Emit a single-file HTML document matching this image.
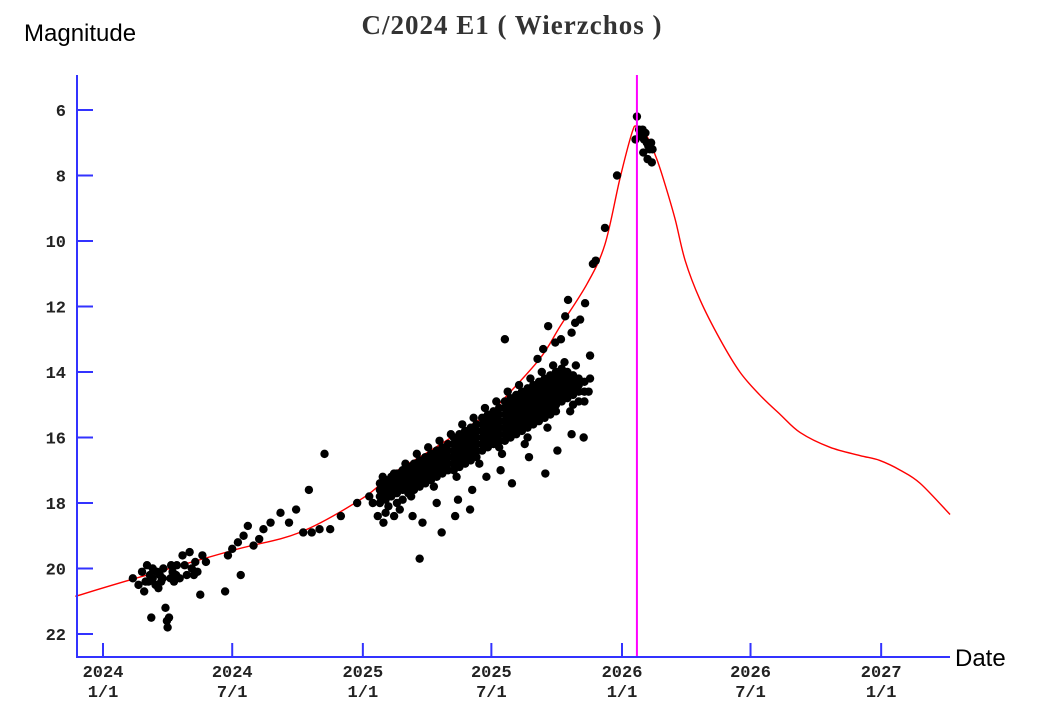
<!DOCTYPE html>
<html><head><meta charset="utf-8"><style>
body{margin:0;background:#fff;width:1060px;height:724px;overflow:hidden}
svg{display:block}
.tk{font-family:"Liberation Mono",monospace;font-size:17px;font-weight:bold;fill:#222}
</style></head><body>
<svg id="chart" width="1060" height="724" viewBox="0 0 1060 724">
<text x="512" y="34" text-anchor="middle" font-family="Liberation Serif,serif" font-size="27" letter-spacing="1" font-weight="bold" fill="#333">C/2024 E1 ( Wierzchos )</text>
<text x="24" y="41" font-family="Liberation Sans,sans-serif" font-size="24" fill="#000">Magnitude</text>
<text x="955" y="666" font-family="Liberation Sans,sans-serif" font-size="24" fill="#000">Date</text>
<g id="marks"></g>
<g id="axes"></g>
</svg>
<script>
const yTicks=[6,8,10,12,14,16,18,20,22];
const xTickDays=[0,182,366,547,731,912,1096];
const xTickYears=["2024","2024","2025","2025","2026","2026","2027"];
const xTickDates=["1/1","7/1","1/1","7/1","1/1","7/1","1/1"];
const perihelionDay=752;
const curveDays=[-39,38,182,277,366,408,461,548,559,615,644,682,707,728,745,752,766,780,792,806,820,841,869,897,925,954,982,1024,1066,1094,1123,1151,1193];
const curveMags=[20.85,20.35,19.45,18.9,17.85,17.1,16.4,15.2,14.95,13.6,12.6,11.3,10.1,8.1,6.7,6.5,6.8,7.5,8.3,9.35,10.6,11.8,13.0,14.0,14.7,15.3,15.85,16.3,16.55,16.7,17.0,17.4,18.35];
const obs=[[42,20.3],[50,20.5],[55,20.1],[58,20.7],[60,20.4],[62,19.9],[66,20.2],[68,21.5],[70,20.3],[74,20.5],[76,20.1],[80,20.2],[82,20.4],[85,20.0],[88,21.2],[90,21.6],[91,21.8],[93,21.5],[95,20.3],[98,20.1],[100,20.4],[104,19.9],[108,20.3],[112,19.6],[115,19.9],[118,20.2],[122,19.5],[125,20.0],[130,19.8],[133,20.1],[137,20.8],[140,19.6],[145,19.8],[172,20.7],[176,19.6],[182,19.4],[190,19.2],[194,20.2],[198,19.0],[204,18.7],[212,19.3],[220,19.1],[226,18.8],[236,18.6],[250,18.3],[262,18.6],[272,18.2],[282,18.9],[290,17.6],[294,18.9],[305,18.8],[312,16.5],[320,18.8],[335,18.4],[358,18.0],[375,17.8],[387,18.4],[418,18.2],[446,19.7],[477,18.9],[496,18.4],[517,18.2],[576,17.4],[623,17.1],[677,16.0],
[64,20.4],[70,20.0],[78,20.6],[84,20.3],[96,19.9],[103,20.2],[128,20.2],[450,18.6],[436,18.4],[470,18.0],[500,17.9],[520,17.6],[540,17.2],[560,17.0],[600,16.6],[640,16.4],[660,15.9],[380,18.0],[395,18.6],[410,18.4],
[390,17.4],[390,17.6],[390,17.8],[390,18.0],[398,17.3],[398,17.5],[398,17.7],[398,17.9],[398,18.3],[406,17.2],[406,17.4],[406,17.6],[406,17.8],[414,17.1],[414,17.3],[414,17.5],[414,17.7],[414,18.0],[422,17.0],[422,17.2],[422,17.4],[422,17.6],[422,17.9],[430,16.9],[430,17.1],[430,17.3],[430,17.5],[430,17.7],[438,16.8],[438,17.0],[438,17.2],[438,17.4],[438,17.6],[446,16.7],[446,16.9],[446,17.1],[446,17.3],[446,17.5],[454,16.6],[454,16.8],[454,17.0],[454,17.2],[454,17.4],[462,16.5],[462,16.7],[462,16.9],[462,17.1],[462,17.3],[470,16.4],[470,16.6],[470,16.8],[470,17.0],[470,17.2],[478,16.3],[478,16.5],[478,16.7],[478,16.9],[478,17.1],[486,16.2],[486,16.4],[486,16.6],[486,16.8],[486,17.0],[494,16.0],[494,16.2],[494,16.4],[494,16.6],[494,16.8],[494,17.0],[502,15.9],[502,16.1],[502,16.3],[502,16.5],[502,16.7],[502,16.9],[510,15.8],[510,16.0],[510,16.2],[510,16.4],[510,16.6],[510,16.8],[518,15.7],[518,15.9],[518,16.1],[518,16.3],[518,16.5],[518,16.7],[526,15.6],[526,15.8],[526,16.0],[526,16.2],[526,16.4],[526,16.6],[534,15.4],[534,15.6],[534,15.8],[534,16.0],[534,16.2],[534,16.4],[542,15.3],[542,15.5],[542,15.7],[542,15.9],[542,16.1],[542,16.3],[550,15.2],[550,15.4],[550,15.6],[550,15.8],[550,16.0],[550,16.2],[558,15.1],[558,15.3],[558,15.5],[558,15.7],[558,15.9],[558,16.1],[558,16.3],[566,14.9],[566,15.1],[566,15.3],[566,15.5],[566,15.7],[566,15.9],[566,16.1],[574,14.8],[574,15.0],[574,15.2],[574,15.4],[574,15.6],[574,15.8],[574,16.0],[582,14.7],[582,14.9],[582,15.1],[582,15.3],[582,15.5],[582,15.7],[582,15.9],[590,14.6],[590,14.8],[590,15.0],[590,15.2],[590,15.4],[590,15.6],[590,15.8],[598,14.5],[598,14.7],[598,14.9],[598,15.1],[598,15.3],[598,15.5],[598,15.7],[598,16.0],[606,14.4],[606,14.6],[606,14.8],[606,15.0],[606,15.2],[606,15.4],[606,15.6],[614,14.3],[614,14.5],[614,14.7],[614,14.9],[614,15.1],[614,15.3],[614,15.5],[622,14.2],[622,14.4],[622,14.6],[622,14.8],[622,15.0],[622,15.2],[622,15.4],[630,14.1],[630,14.3],[630,14.5],[630,14.7],[630,14.9],[630,15.1],[630,15.3],[638,14.0],[638,14.2],[638,14.4],[638,14.6],[638,14.8],[638,15.0],[638,15.2],[646,13.9],[646,14.1],[646,14.3],[646,14.5],[646,14.7],[646,14.9],[654,14.0],[654,14.2],[654,14.4],[654,14.6],[654,14.8],[662,14.1],[662,14.3],[662,14.5],[662,14.7],[662,15.0],[670,14.2],[670,14.4],[670,14.6],[670,14.9],[678,14.3],[678,14.6],[678,14.9],
[394,17.2],[410,17.1],[426,16.8],[442,16.5],[458,16.3],[474,16.1],[490,15.9],[506,15.6],[522,15.4],[538,15.1],[554,14.9],[570,14.6],[586,14.4],[602,14.2],[618,14.0],[634,13.8],[650,13.7],[666,13.8],[402,18.1],[434,17.8],[466,17.5],[498,17.2],[530,16.8],[562,16.5],[594,16.2],[626,15.7],[658,15.2],
[566,13.0],[627,12.6],[637,13.1],[651,12.3],[655,11.8],[665,12.5],[679,11.9],[686,13.5],[686,14.2],[690,10.7],[694,10.6],[707,9.6],[724,8.0],[612,13.6],[620,13.3],[645,13.0],[660,12.8],[672,12.4],[684,14.6],
[752,6.2],[755,6.6],[757,6.8],[760,6.6],[762,6.9],[764,6.7],[766,7.0],[768,7.1],[770,7.2],[772,7.0],[774,7.2],[767,7.5],[761,7.3],[750,6.9],[773,7.6]];

const NS="http://www.w3.org/2000/svg";
const X0=103,PXD=0.71,Y6=110,PXM=32.75;
const xs=d=>X0+d*PXD, ys=m=>Y6+(m-6)*PXM;
const marks=document.getElementById('marks'), axes=document.getElementById('axes');
function mk(tag,attrs,parent){const e=document.createElementNS(NS,tag);for(const k in attrs)e.setAttribute(k,attrs[k]);parent.appendChild(e);return e;}

const P=curveDays.map((d,i)=>[xs(d),ys(curveMags[i])]);
let dstr='M'+P[0][0]+','+P[0][1];
for(let i=0;i<P.length-1;i++){
  const p0=P[Math.max(0,i-1)],p1=P[i],p2=P[i+1],p3=P[Math.min(P.length-1,i+2)];
  const c1=[p1[0]+(p2[0]-p0[0])/6,p1[1]+(p2[1]-p0[1])/6];
  const c2=[p2[0]-(p3[0]-p1[0])/6,p2[1]-(p3[1]-p1[1])/6];
  dstr+=' C'+c1+' '+c2+' '+p2;
}
const curve=mk('path',{d:dstr,fill:'none',stroke:'#f00','stroke-width':1.4},marks);


obs.forEach(p=>{
  const c=mk('circle',{cx:xs(p[0]),cy:ys(p[1]),r:4.2,fill:'#000'},marks);
  
  
});
const per=mk('line',{x1:xs(perihelionDay),x2:xs(perihelionDay),y1:75,y2:657,stroke:'#f0f','stroke-width':2},marks);



const ya=mk('line',{x1:77,x2:77,y1:75,y2:658,stroke:'#3333ff','stroke-width':2},axes);


const xa=mk('line',{x1:76,x2:950,y1:657,y2:657,stroke:'#3333ff','stroke-width':2},axes);


yTicks.forEach(m=>{
  const t=mk('line',{x1:77,x2:93,y1:ys(m),y2:ys(m),stroke:'#3333ff','stroke-width':2},axes);
  
  
  const l=mk('text',{x:66,y:ys(m)+6,'text-anchor':'end',class:'tk'},axes);
  l.textContent=m;
  
  
});
xTickDays.forEach((d,i)=>{
  const t=mk('line',{x1:xs(d),x2:xs(d),y1:643,y2:657,stroke:'#3333ff','stroke-width':2},axes);
  
  
  const a=mk('text',{x:xs(d),y:677,'text-anchor':'middle',class:'tk'},axes);
  a.textContent=xTickYears[i];
  
  
  const b=mk('text',{x:xs(d),y:697,'text-anchor':'middle',class:'tk'},axes);
  b.textContent=xTickDates[i];
  
  
});
</script>
</body></html>
